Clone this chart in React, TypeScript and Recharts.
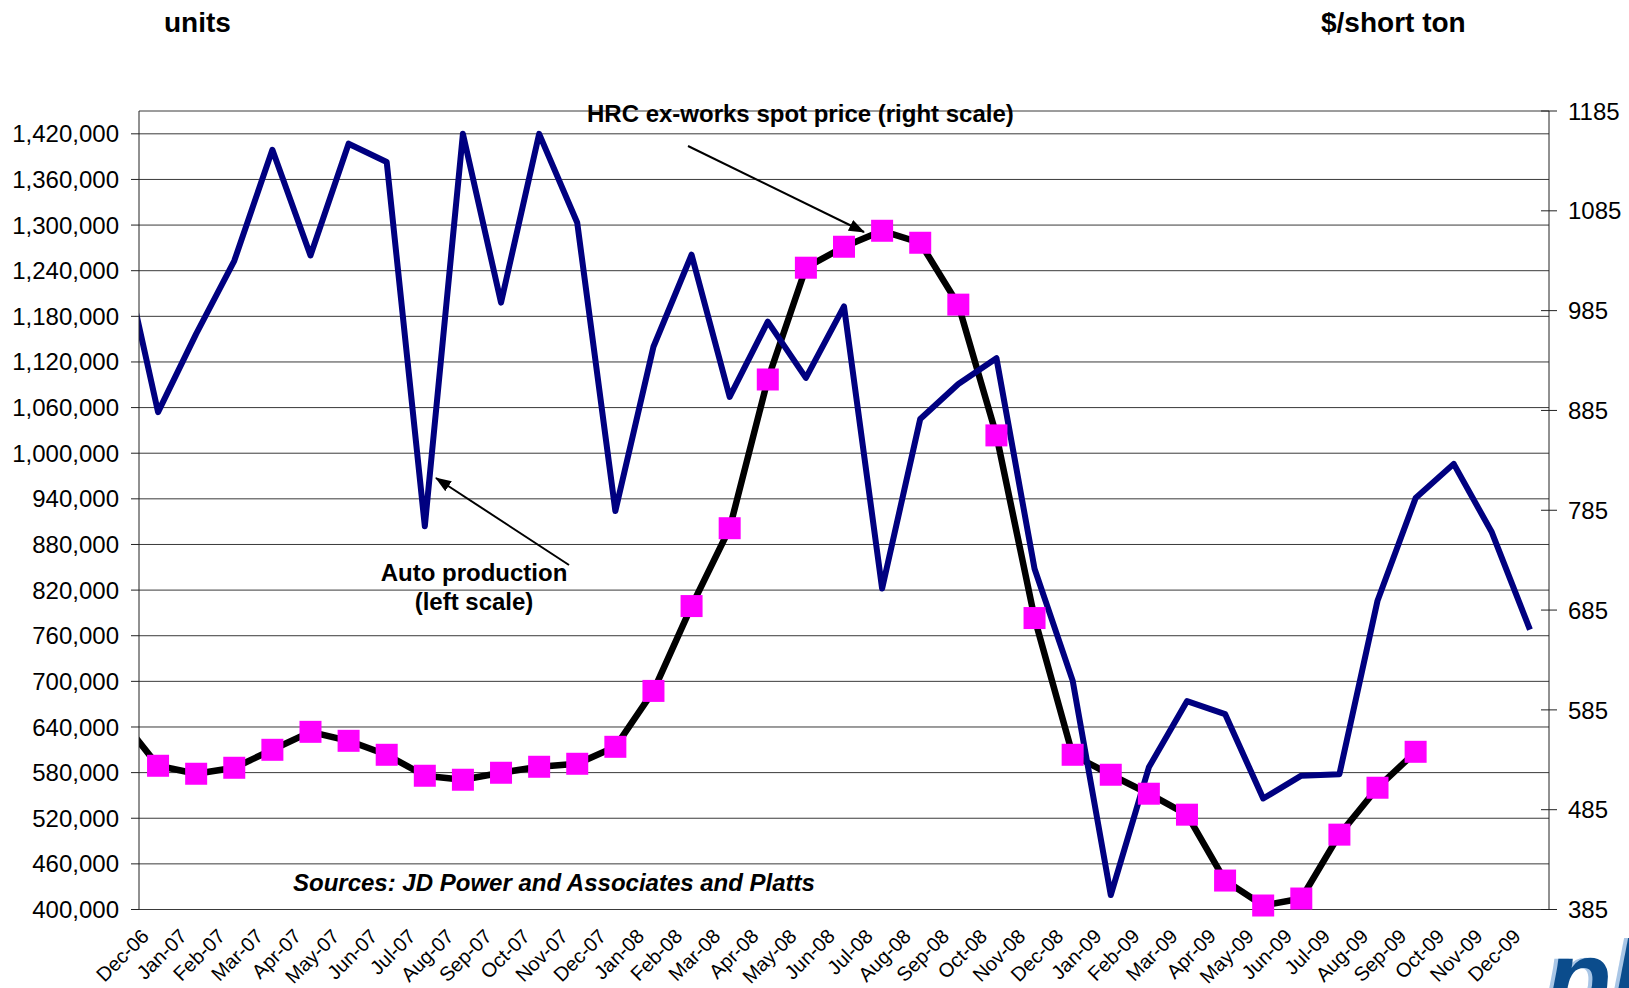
import React from 'react'
import { ComposedChart, Line, Scatter, XAxis, YAxis, CartesianGrid } from 'recharts'

const FONT = '"Liberation Sans", Arial, Helvetica, sans-serif'

// Nov-06 is only the lead-in point: its segment is clipped at the left axis
const months = [
  'Nov-06', 'Dec-06',
  'Jan-07', 'Feb-07', 'Mar-07', 'Apr-07', 'May-07', 'Jun-07', 'Jul-07', 'Aug-07', 'Sep-07', 'Oct-07', 'Nov-07', 'Dec-07',
  'Jan-08', 'Feb-08', 'Mar-08', 'Apr-08', 'May-08', 'Jun-08', 'Jul-08', 'Aug-08', 'Sep-08', 'Oct-08', 'Nov-08', 'Dec-08',
  'Jan-09', 'Feb-09', 'Mar-09', 'Apr-09', 'May-09', 'Jun-09', 'Jul-09', 'Aug-09', 'Sep-09', 'Oct-09', 'Nov-09', 'Dec-09',
]

// units (left scale)
const autoProduction = [
  1280000, 1054000,
  1157000, 1253000, 1399000, 1260000, 1407000, 1383000, 904000, 1420000, 1198000, 1420000, 1303000, 924000,
  1140000, 1261000, 1074000, 1173000, 1099000, 1193000, 822000, 1045000, 1091000, 1125000, 848000, 701000,
  419000, 587000, 674000, 657000, 546000, 576000, 578000, 806000, 941000, 986000, 896000, 768000,
]

// $/short ton (right scale)
const hrcPrice: (number | null)[] = [
  577, 529,
  521, 527, 545, 563, 554, 540, 519, 515, 522, 528, 531, 548,
  604, 689, 767, 916, 1028, 1049, 1065, 1053, 991, 860, 677, 540,
  520, 501, 480, 414, 389, 396, 460, 507, 543, null, null, null,
]

const unitTicks = [
  400000, 460000, 520000, 580000, 640000, 700000, 760000, 820000, 880000,
  940000, 1000000, 1060000, 1120000, 1180000, 1240000, 1300000, 1360000, 1420000,
]
const priceTicks = [385, 485, 585, 685, 785, 885, 985, 1085, 1185]

const data = months.map((month, i) => ({
  idx: i - 1,
  month,
  auto: autoProduction[i],
  price: hrcPrice[i],
}))

const shown = data.filter(d => d.idx >= 0)
const labelTicks = shown.map(d => d.idx)
const boundaryTicks = [...labelTicks.map(i => i - 0.5), labelTicks[labelTicks.length - 1] + 0.5]
const xDomain = [boundaryTicks[0], boundaryTicks[boundaryTicks.length - 1]]
const markerData = shown.filter(d => d.price != null)

function MonthTick({ x, y, payload }: any) {
  const tx = x - 8
  const ty = y + 26
  return (
    <text x={tx} y={ty} transform={`rotate(-45 ${tx} ${ty})`} textAnchor="end" fontSize={20} fontFamily={FONT} fill="#000">
      {months[payload.value + 1]}
    </text>
  )
}

function PriceTick({ x, y, payload }: any) {
  const axisX = x - 19
  return (
    <g>
      <line x1={axisX - 8} x2={axisX} y1={y} y2={y} stroke="#222" />
      <text x={x} y={y} dy="0.36em" textAnchor="start" fontSize={24} fontFamily={FONT} fill="#000">
        {payload.value}
      </text>
    </g>
  )
}

function SquareMarker({ cx, cy }: any) {
  if (cx == null || cy == null) return null
  return <rect x={cx - 11} y={cy - 11} width={22} height={22} fill="#FF00FF" />
}

export default function App() {
  return (
    <div style={{ position: 'absolute', left: 0, top: 0, width: 1629, height: 988, background: '#fff', fontFamily: FONT }}>
      <ComposedChart width={1629} height={988} data={data} margin={{ top: 111, right: 0, bottom: 0, left: 0 }}>
        <CartesianGrid xAxisId="cat" yAxisId="units" vertical={false} stroke="#3a3a3a" />
        <XAxis
          xAxisId="bounds"
          dataKey="idx"
          type="number"
          domain={xDomain}
          ticks={boundaryTicks}
          interval={0}
          tick={false}
          tickSize={8}
          height={0}
          axisLine={{ stroke: '#222' }}
          tickLine={{ stroke: '#222' }}
        />
        <XAxis
          xAxisId="cat"
          dataKey="idx"
          type="number"
          domain={xDomain}
          ticks={labelTicks}
          interval={0}
          tick={<MonthTick />}
          tickLine={false}
          axisLine={false}
          tickSize={0}
          height={78.5}
          allowDataOverflow
        />
        <YAxis
          yAxisId="units"
          width={139}
          domain={[400000, 1450000]}
          ticks={unitTicks}
          interval={0}
          tickSize={8}
          tickMargin={12}
          tickFormatter={(v: number) => v.toLocaleString('en-US')}
          tick={{ fontSize: 24, fill: '#000', fontFamily: FONT }}
          axisLine={{ stroke: '#222' }}
          tickLine={{ stroke: '#222' }}
        />
        <YAxis
          yAxisId="price"
          orientation="right"
          width={80}
          domain={[385, 1185]}
          ticks={priceTicks}
          interval={0}
          tickSize={8}
          tickMargin={11}
          tick={<PriceTick />}
          axisLine={{ stroke: '#222' }}
          tickLine={{ stroke: '#222' }}
        />
        <Line
          xAxisId="cat"
          yAxisId="price"
          dataKey="price"
          stroke="#000"
          strokeWidth={6.5}
          strokeLinejoin="round"
          dot={false}
          activeDot={false}
          isAnimationActive={false}
        />
        <Scatter
          xAxisId="bounds"
          yAxisId="price"
          data={markerData}
          dataKey="price"
          shape={<SquareMarker />}
          isAnimationActive={false}
        />
        <Line
          xAxisId="cat"
          yAxisId="units"
          dataKey="auto"
          stroke="#000080"
          strokeWidth={6}
          strokeLinejoin="round"
          dot={false}
          activeDot={false}
          isAnimationActive={false}
        />
      </ComposedChart>

      <svg width={1629} height={988} style={{ position: 'absolute', left: 0, top: 0, pointerEvents: 'none' }} fontFamily={FONT}>
        <defs>
          <marker id="arrowHead" markerUnits="userSpaceOnUse" markerWidth={16} markerHeight={12} refX={15} refY={6} orient="auto">
            <path d="M0,0 L16,6 L0,12 z" fill="#000" />
          </marker>
        </defs>
        <text x={164} y={32} fontSize={28} fontWeight="bold" fill="#000">units</text>
        <text x={1321} y={32} fontSize={28} fontWeight="bold" fill="#000">$/short ton</text>
        <text x={587} y={122} fontSize={24} fontWeight="bold" fill="#000">HRC ex-works spot price (right scale)</text>
        <line x1={688} y1={146} x2={864} y2={232} stroke="#000" strokeWidth={2} markerEnd="url(#arrowHead)" />
        <text x={474} y={581} fontSize={24} fontWeight="bold" textAnchor="middle" fill="#000">Auto production</text>
        <text x={474} y={610} fontSize={24} fontWeight="bold" textAnchor="middle" fill="#000">(left scale)</text>
        <line x1={569} y1={565} x2={436} y2={478} stroke="#000" strokeWidth={2} markerEnd="url(#arrowHead)" />
        <text x={293} y={891} fontSize={24} fontWeight="bold" fontStyle="italic" fill="#000">
          Sources: JD Power and Associates and Platts
        </text>
        <text x={1542} y={1016} fontSize={107} fontWeight="bold" fontStyle="italic" fill="#a9c6e6">platts</text>
        <text x={1546} y={1016} fontSize={107} fontWeight="bold" fontStyle="italic" fill="#0b4c8c">platts</text>
      </svg>
    </div>
  )
}
